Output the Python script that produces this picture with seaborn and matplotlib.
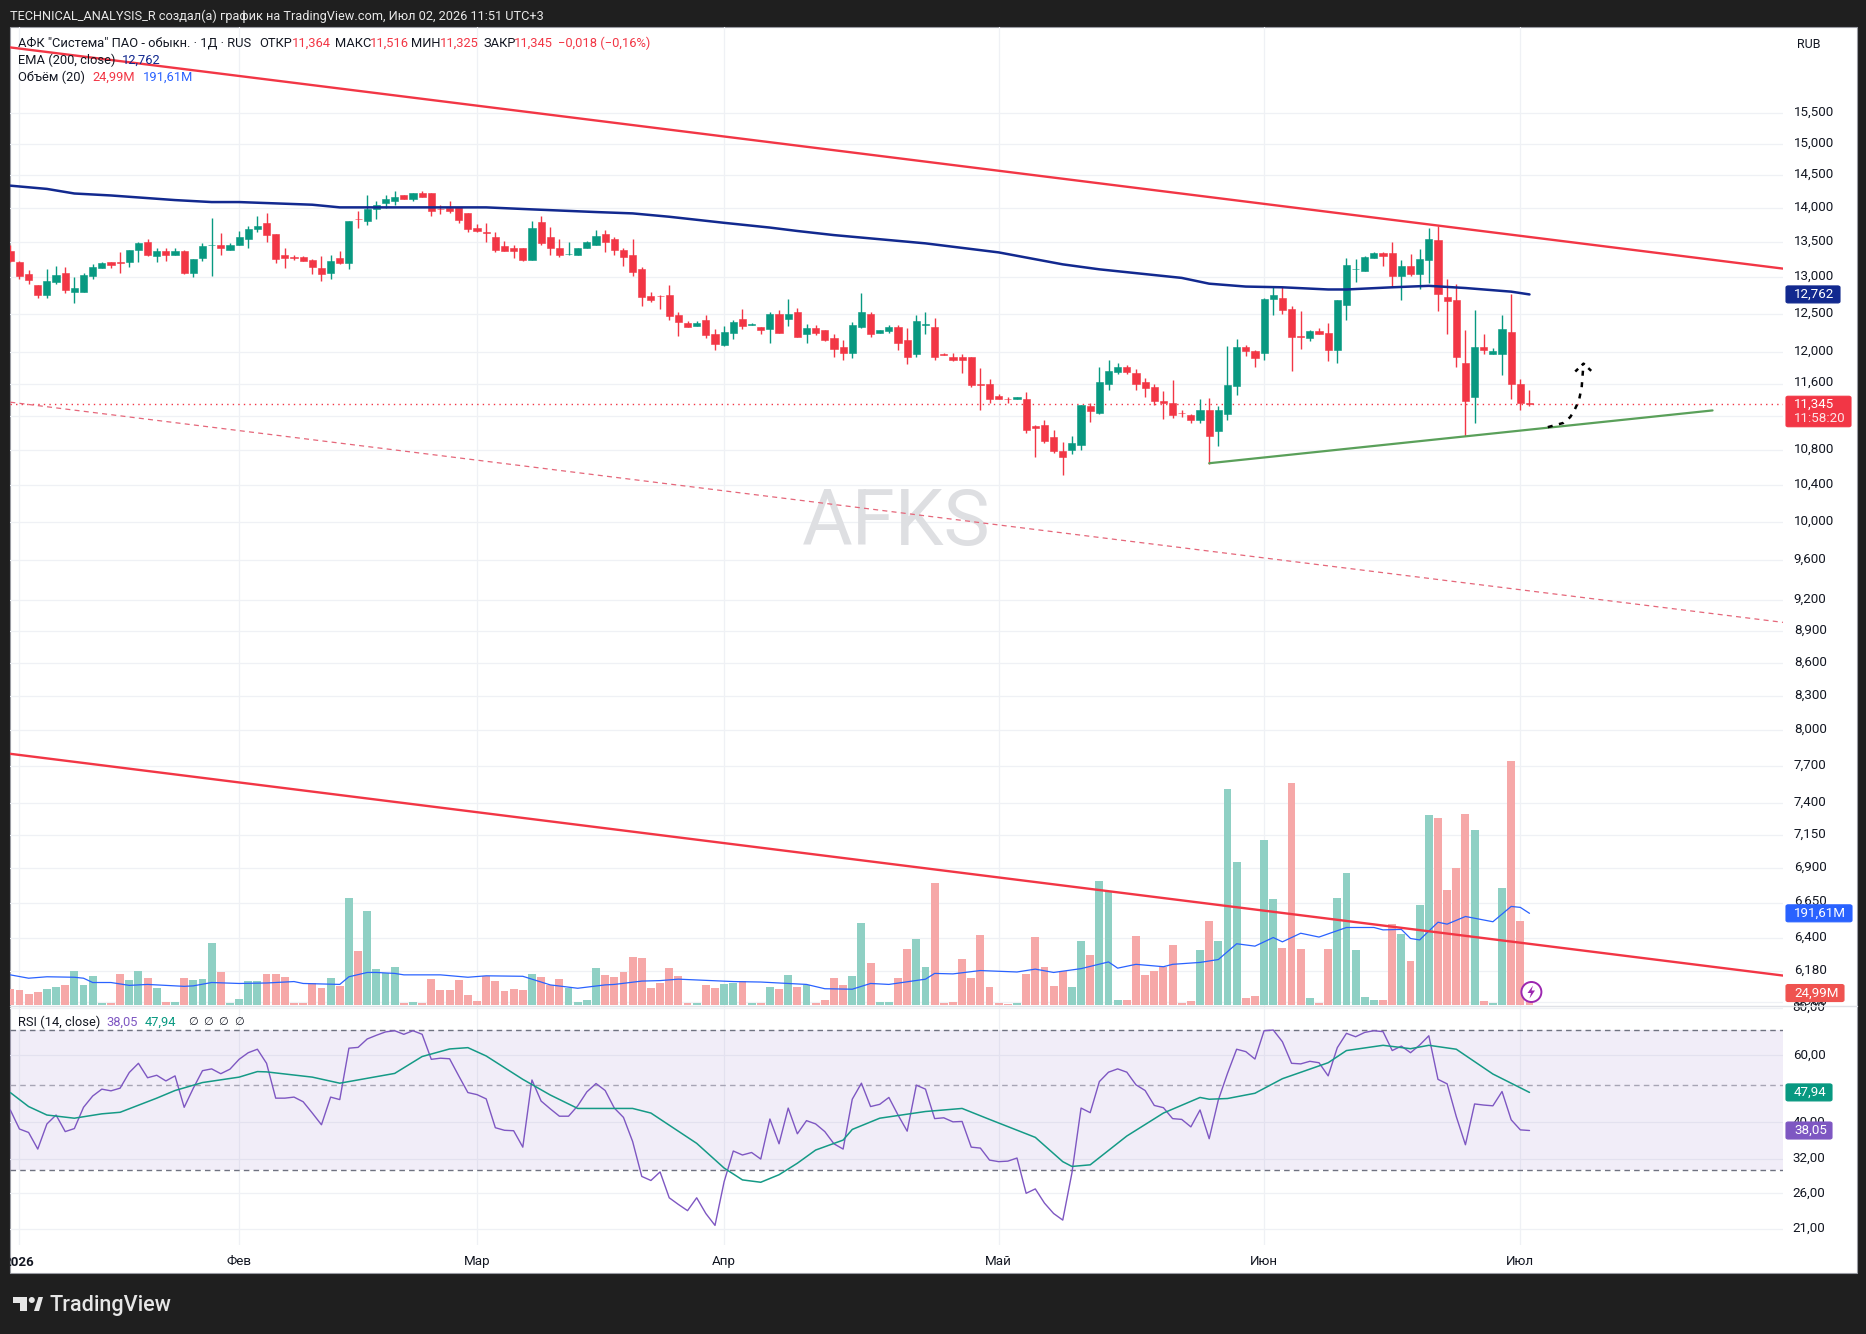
import numpy as np
import pandas as pd
import matplotlib
matplotlib.use("Agg")
import matplotlib.pyplot as plt
from matplotlib.lines import Line2D
from matplotlib.patches import Rectangle, Ellipse, Polygon, FancyBboxPatch
from matplotlib.transforms import ScaledTranslation
import seaborn as sns

# Daily OHLC of AFKS, one entry per session
opens = [13.37,13.21,13.05,12.89,12.76,12.94,13.06,12.80,12.80,13.01,13.135,13.21,13.21,13.21,13.38,13.50,13.30,13.37,13.32,13.37,
         13.06,13.27,13.45,13.46,13.38,13.46,13.54,13.69,13.78,13.61,13.31,13.28,13.28,13.24,13.13,13.06,13.27,13.20,13.84,13.81,
         13.99,14.07,14.11,14.19,14.13,14.235,14.22,13.99,14.005,14.02,13.93,13.70,13.64,13.57,13.435,13.41,13.41,13.24,13.79,13.57,
         13.41,13.33,13.32,13.42,13.45,13.61,13.54,13.38,13.32,13.115,12.74,12.74,12.76,12.48,12.375,12.34,12.415,12.23,12.085,12.245,
         12.43,12.35,12.32,12.30,12.50,12.43,12.52,12.23,12.31,12.29,12.175,12.06,11.99,12.33,12.50,12.24,12.27,12.32,12.15,11.97,
         12.35,12.33,11.97,11.94,11.94,11.93,11.595,11.60,11.44,11.415,11.415,11.415,11.085,11.10,10.955,10.79,10.80,10.86,11.32,11.24,
         11.60,11.74,11.805,11.73,11.615,11.555,11.39,11.365,11.245,11.21,11.16,11.27,11.02,11.23,11.57,12.06,12.01,11.98,12.70,12.72,
         12.565,12.20,12.18,12.27,12.245,12.02,12.62,13.11,13.09,13.27,13.34,13.34,13.02,13.15,13.04,13.245,13.525,12.73,12.69,11.855,
         11.43,12.06,11.97,11.97,12.26,11.60,11.364]
highs = [13.45,13.23,13.10,12.89,13.115,13.16,13.145,13.005,13.06,13.185,13.21,13.21,13.35,13.39,13.50,13.55,13.41,13.41,13.41,13.39,
         13.255,13.49,13.85,13.63,13.49,13.66,13.73,13.88,13.93,13.61,13.42,13.31,13.30,13.255,13.30,13.32,13.37,13.81,13.96,14.19,
         14.10,14.19,14.265,14.19,14.235,14.265,14.22,14.04,14.10,14.02,13.93,13.76,13.78,13.64,13.52,13.46,13.41,13.81,13.88,13.72,
         13.54,13.50,13.41,13.52,13.67,13.67,13.57,13.41,13.54,13.145,12.80,12.76,12.89,12.52,12.40,12.40,12.48,12.30,12.34,12.415,
         12.565,12.375,12.32,12.52,12.55,12.70,12.575,12.36,12.35,12.29,12.23,12.15,12.39,12.78,12.53,12.29,12.35,12.35,12.31,12.48,
         12.52,12.44,11.99,11.98,11.97,11.93,11.79,11.655,11.465,11.43,11.43,11.49,11.10,11.157,11.04,10.90,10.97,11.34,11.355,11.805,
         11.90,11.855,11.83,11.78,11.665,11.60,11.505,11.64,11.28,11.23,11.405,11.42,11.32,12.07,12.17,12.09,12.02,12.715,12.87,12.87,
         12.605,12.54,12.285,12.31,12.375,12.69,13.27,13.26,13.30,13.355,13.355,13.495,13.245,13.33,13.40,13.71,13.74,12.98,12.90,12.285,
         12.55,12.23,12.05,12.48,12.77,11.655,11.516]
lows = [13.21,12.975,12.91,12.71,12.72,12.91,12.785,12.65,12.795,12.97,13.13,13.135,13.065,13.145,13.21,13.30,13.21,13.23,13.31,13.05,
        13.005,13.23,13.02,13.31,13.38,13.45,13.41,13.64,13.50,13.20,13.13,13.24,13.225,13.05,12.95,12.98,13.185,13.115,13.70,13.75,
        13.84,14.005,14.04,14.13,14.11,14.17,13.88,13.915,13.93,13.78,13.64,13.64,13.50,13.35,13.37,13.27,13.23,13.24,13.45,13.32,
        13.28,13.32,13.32,13.41,13.45,13.35,13.31,13.16,13.02,12.61,12.66,12.565,12.415,12.21,12.32,12.34,12.18,12.03,12.07,12.165,
        12.30,12.345,12.23,12.115,12.245,12.34,12.19,12.11,12.215,12.135,11.93,11.90,11.92,12.31,12.19,12.24,12.25,12.03,11.85,11.93,
        12.23,11.89,11.955,11.88,11.73,11.555,11.28,11.365,11.405,11.365,11.405,11.005,10.725,10.885,10.77,10.515,10.76,10.80,11.135,11.23,
        11.515,11.72,11.72,11.515,11.43,11.34,11.17,11.18,11.195,11.125,11.125,10.64,10.85,11.16,11.455,11.945,11.81,11.895,12.48,12.495,
        11.755,12.035,12.14,12.23,11.88,11.855,12.415,12.94,13.08,13.27,13.16,12.87,12.69,13.02,12.83,12.925,12.535,12.23,11.81,10.96,
        11.125,11.97,11.97,11.705,11.41,11.28,11.325]
closes = [13.23,13.01,12.96,12.76,12.95,13.03,12.82,12.85,13.03,13.145,13.20,13.17,13.20,13.38,13.49,13.32,13.37,13.31,13.37,13.06,
          13.255,13.435,13.46,13.41,13.46,13.57,13.69,13.73,13.60,13.255,13.27,13.27,13.23,13.145,13.05,13.23,13.20,13.81,13.83,13.99,
          14.05,14.14,14.17,14.13,14.235,14.17,13.96,13.98,13.96,13.82,13.69,13.66,13.63,13.39,13.37,13.37,13.24,13.70,13.48,13.41,
          13.32,13.33,13.41,13.50,13.58,13.50,13.38,13.28,13.075,12.73,12.69,12.735,12.47,12.39,12.32,12.375,12.22,12.10,12.26,12.39,
          12.34,12.36,12.285,12.50,12.245,12.50,12.19,12.31,12.24,12.16,12.04,11.99,12.35,12.53,12.23,12.28,12.33,12.12,11.94,12.41,
          12.36,11.93,11.955,11.89,11.89,11.58,11.585,11.415,11.405,11.41,11.43,11.04,11.065,10.91,10.79,10.725,10.885,11.33,11.265,11.615,
          11.755,11.805,11.74,11.60,11.54,11.38,11.355,11.215,11.235,11.15,11.28,10.97,11.27,11.58,12.06,12.01,11.92,12.70,12.76,12.55,
          12.19,12.19,12.27,12.23,12.02,12.68,13.175,13.12,13.29,13.34,13.30,13.02,13.16,13.04,13.26,13.54,12.77,12.675,11.93,11.38,
          12.06,12.02,12.01,12.30,11.59,11.355,11.345]

# Traded volume per session, millions of shares
volumes = [33,31,23,27,33,38,42,71,42,61,4,4,65,52,71,56,36,6,6,56,
           52,54,130,69,4,13,50,50,65,65,59,4,4,46,36,56,40,224,113,197,
           75,67,79,4,6,4,54,31,31,52,21,8,61,50,29,33,31,65,59,42,
           54,36,6,10,77,63,59,69,100,98,36,46,77,61,4,4,42,36,44,46,
           50,4,4,38,33,63,38,42,4,10,56,42,61,171,88,6,6,56,117,138,
           79,255,4,6,96,56,146,38,4,2,4,65,142,79,40,71,38,134,105,259,
           238,10,10,144,63,71,79,125,4,8,115,176,134,452,299,15,19,345,222,119,
           463,117,15,4,117,224,276,115,17,10,10,169,148,92,209,397,391,240,286,399,
           366,8,4,245,510,176,24.99]

# 20-period volume average, read at selected sessions
vol_ma_idx = [0,2,4,7,8,9,11,13,15,19,20,22,25,28,31,32,36,37,39,40,42,43,47,50,52,56,59,62,65,66,69,71,73,79,82,87,89,92,94,96,
              100,101,103,106,110,112,114,117,120,121,123,126,127,130,132,134,136,138,139,141,143,146,149,150,152,153,154,156,157,159,162,164,165,166]
vol_ma_val = [63,56,59,58,56,47,47,41,43,39,40,47,45,46,49,45,43,59,68,68,66,63,63,58,61,60,42,35,42,43,50,51,54,49,48,43,34,33,45,43,
              54,66,65,72,69,75,68,76,90,77,85,80,85,89,95,128,123,141,132,150,142,162,162,157,158,139,136,173,169,185,174,206,204,191.61]

# EMA(200) of the close, read at selected sessions
ema_idx = [0,4,7,11,15,18,22,25,29,33,36,40,44,52,57,64,68,72,78,83,86,90,100,108,115,119,128,131,135,139,144,146,151,155,159,164,166]
ema_val = [14.34,14.29,14.22,14.19,14.15,14.12,14.09,14.09,14.07,14.05,14.01,14.01,14.01,14.01,13.98,13.94,13.92,13.87,13.78,13.71,
           13.66,13.60,13.48,13.35,13.18,13.11,12.99,12.91,12.87,12.86,12.83,12.83,12.86,12.88,12.85,12.80,12.762]

# RSI(14), one value per session
rsi = [43.1,38.4,37.6,34.0,39.6,41.8,37.8,38.5,43.8,46.9,48.9,48.4,49.2,54.1,57.2,52.4,53.2,51.4,53.0,43.8,
       49.2,54.7,55.3,53.7,55.2,58.6,61.0,62.3,57.2,46.3,46.3,46.6,45.3,42.3,39.4,46.6,45.9,62.7,63.0,66.3,
       67.8,69.2,69.7,68.2,69.7,68.2,58.6,59.0,58.8,53.0,47.9,47.3,46.1,38.7,38.1,38.0,34.4,51.7,45.5,43.4,
       41.5,41.5,44.2,48.1,50.6,48.5,43.6,41.2,35.6,28.8,28.1,29.6,25.3,24.3,23.4,25.3,23.0,21.4,27.9,33.6,
       32.8,33.3,32.0,40.8,35.1,43.6,37.3,40.4,39.6,37.8,35.1,34.0,46.0,50.7,44.0,44.6,46.5,41.8,37.9,50.1,
       48.9,40.9,41.1,40.1,40.2,34.4,34.2,31.8,31.5,31.6,32.2,26.0,26.7,24.5,23.0,22.1,29.4,43.6,42.4,51.2,
       54.2,55.3,54.2,50.2,48.5,44.3,43.7,40.9,40.7,38.9,43.1,36.2,45.8,53.8,62.3,61.4,58.7,69.7,70.0,65.2,
       57.2,57.0,57.9,57.4,53.0,62.9,68.6,67.2,69.0,69.7,69.3,61.8,63.5,61.0,63.9,67.6,51.9,50.5,41.4,34.9,
       44.7,44.4,44.2,48.2,40.6,38.2,38.05]

# RSI smoothing average, read at selected sessions
rsi_ma_idx = [0,2,4,7,10,12,16,18,21,25,27,28,33,36,42,45,48,50,52,56,59,62,68,70,75,78,80,82,84,86,88,91,92,95,100,104,107,112,115,116,
              118,122,126,130,131,133,136,139,144,146,150,153,155,158,162,166]
rsi_ma_val = [47.9,44.0,41.8,41.0,42.1,42.5,46.3,48.5,50.9,52.6,54.4,54.3,52.6,50.7,53.8,59.6,62.4,62.9,59.8,51.9,47.2,43.5,43.5,42.3,35.2,30.3,28.2,27.8,29.1,31.2,33.8,35.9,38.3,41.0,42.7,43.5,40.7,36.5,31.5,30.6,
              30.9,36.8,42.3,46.5,46.0,46.2,47.7,52.1,57.4,61.8,63.8,62.5,63.8,62.3,53.6,47.94]

# Hand-drawn trend lines (session index, price)
upper_line_x, upper_line_y = [0, 193.7], [16.63, 13.12]
dashed_line_x, dashed_line_y = [0, 193.7], [11.37, 8.98]
lower_line_x, lower_line_y = [0, 193.7], [7.80, 6.15]
support_line_x, support_line_y = [131, 186], [10.65, 11.27]
path_x = [168, 169.7, 170.45, 170.9, 171.4, 171.7, 171.9]
path_y = [11.07, 11.12, 11.19, 11.27, 11.39, 11.55, 11.85]
path_head_x, path_head_y = [171.0, 171.9, 173.1], [11.75, 11.85, 11.72]

# Axis ticks
price_ticks = [15.5,15,14.5,14,13.5,13,12.5,12,11.6,11.2,10.8,10.4,10,9.6,9.2,8.9,8.6,8.3,8.0,7.7,7.4,7.15,6.9,6.65,6.4,6.18,5.98]
rsi_ticks = [80,60,40,32,26,21]
month_idx = [1,25,51,78,108,137,165]
month_labels = ["2026","Фев","Мар","Апр","Май","Июн","Июл"]

GREEN, RED = "#089981", "#f23645"
NAVY, BLUE, PURPLE = "#12298f", "#2962ff", "#7e57c2"
INK = "#131722"
GRID = "#eff1f5"
FRAME = "#1f1f1f"
W, H = 1866, 1334

sns.set_theme(style="white")
plt.rcParams["font.family"] = ["Roboto", "DejaVu Sans"]
plt.rcParams["font.size"] = 9.6
plt.rcParams["path.simplify"] = False


def fx(x):
    return x / W


def fy(y):
    return 1 - y / H


def axes_box(left, top, right, bottom):
    return [fx(left), fy(bottom), (right - left) / W, (bottom - top) / H]


def label(x, y, s, color=INK, size=9.25, **kw):
    kw.setdefault("va", "center")
    kw.setdefault("ha", "left")
    return fig.text(fx(x), fy(y), s, color=color, fontsize=size, **kw)


def value_tag(ax, value, s, color, right, top_pad=8.5, bottom_pad=8.5):
    # Coloured price tag on the right scale, placed from the value it states
    disp = ax.transData.transform((0, value))[1]
    y = H - disp
    fig.add_artist(FancyBboxPatch((fx(1786), fy(y + bottom_pad)), (right - 1786) / W, (top_pad + bottom_pad) / H,
                                  boxstyle="round,pad=0,rounding_size=0.0012", transform=fig.transFigure,
                                  fc=color, ec=color, lw=0.8, zorder=2))
    label(1794, y, s, color="white", size=9.6, zorder=3)


def lift_labels(ax, pixels):
    # Value labels sit slightly above their grid lines
    offset = ScaledTranslation(0, pixels / 100, fig.dpi_scale_trans)
    for t in ax.get_yticklabels():
        t.set_transform(t.get_transform() + offset)


fig = plt.figure(figsize=(W / 100, H / 100), dpi=100, facecolor=FRAME)
panel = Rectangle((fx(10), fy(1273)), (1857 - 10) / W, (1273 - 27) / H, transform=fig.transFigure,
                  fc="white", ec="#9a9ca3", lw=0.8, zorder=-1)
fig.add_artist(panel)

idx = np.arange(len(closes))
xlim = (-0.033, 193.7)
price_lim = (5.959, 16.998)
price_box = axes_box(10, 27, 1783, 1005)

# Back layer: log price scale and grid
ax_back = fig.add_axes(price_box, facecolor="none")
ax_back.set_yscale("log")
ax_back.set_xlim(xlim)
ax_back.set_ylim(price_lim)
ax_back.yaxis.tick_right()
ax_back.set_yticks(price_ticks)
ax_back.set_yticklabels([f"{t:.3f}".replace(".", ",") for t in price_ticks], color=INK, fontsize=9.6)
ax_back.minorticks_off()
ax_back.set_xticks(month_idx)
ax_back.set_xticklabels([])
ax_back.tick_params(axis="both", length=0, pad=7.8)
ax_back.grid(True, color=GRID, lw=0.9)
for s in ax_back.spines.values():
    s.set_visible(False)
lift_labels(ax_back, 2.4)
ax_back.text(fx(896), fy(523), "AFKS", transform=fig.transFigure, color="#dedfe2", fontsize=56,
             ha="center", va="center", fontweight="normal")

# Volume overlay
ax_vol = fig.add_axes(price_box, facecolor="none")
vol_frame = pd.DataFrame({"session": idx, "volume": volumes,
                          "side": np.where(np.array(closes) >= np.array(opens), "up", "down")})
sns.barplot(data=vol_frame, x="session", y="volume", hue="side", native_scale=True, dodge=False,
            palette={"up": "#8fd0c4", "down": "#f6a8a8"}, width=0.86, saturation=1, linewidth=0,
            legend=False, ax=ax_vol)
sns.lineplot(x=vol_ma_idx, y=vol_ma_val, color=BLUE, lw=0.9, estimator=None, ax=ax_vol, zorder=4)
ax_vol.set_xlim(xlim)
ax_vol.set_ylim(0, 2044)
ax_vol.axis("off")

# Candles, moving average and drawings
ax = fig.add_axes(price_box, facecolor="none")
ax.set_yscale("log")
ax.set_xlim(xlim)
ax.set_ylim(price_lim)
o, hi, lo, cl = map(np.array, (opens, highs, lows, closes))
colors = np.where(cl >= o, GREEN, RED)
ax.vlines(idx, lo, hi, colors=colors, lw=1.0, zorder=3)
body_low = np.minimum(o, cl)
body_h = np.abs(cl - o)
ax.bar(idx, body_h, bottom=body_low, width=0.78, color=colors, edgecolor=colors, linewidth=0.4, zorder=4)
ax.axhline(closes[-1], color=RED, lw=1, ls=(0, (1, 3)), zorder=2)
sns.lineplot(x=ema_idx, y=ema_val, color=NAVY, lw=1.8, estimator=None, ax=ax, zorder=5)
ax.plot(upper_line_x, upper_line_y, color=RED, lw=1.7, zorder=6)
ax.plot(lower_line_x, lower_line_y, color=RED, lw=1.7, zorder=6)
ax.plot(dashed_line_x, dashed_line_y, color="#e5677a", lw=0.9, ls=(0, (4, 3.4)), zorder=6)
ax.plot(support_line_x, support_line_y, color="#5aa05a", lw=1.6, zorder=6)
ax.plot(path_x, path_y, color="black", lw=1.8, ls=(0, (2, 2.6)), zorder=7)
ax.plot(path_head_x, path_head_y, color="black", lw=1.8, ls=(0, (1.6, 2.0)), zorder=7)
ax.axis("off")

# RSI pane
ax_rsi = fig.add_axes(axes_box(10, 1005, 1783, 1245), facecolor="none")
ax_rsi.set_yscale("log")
ax_rsi.set_xlim(xlim)
ax_rsi.set_ylim(19.0, 81.47)
ax_rsi.axhspan(30, 70, color=PURPLE, alpha=0.1, lw=0, zorder=1)
for level, col in ((70, "#6f7280"), (50, "#a7a5b5"), (30, "#6f7280")):
    ax_rsi.axhline(level, color=col, lw=1, ls=(0, (4, 3)), zorder=2)
sns.lineplot(x=idx, y=rsi, color=PURPLE, lw=1.0, estimator=None, ax=ax_rsi, zorder=4)
sns.lineplot(x=rsi_ma_idx, y=rsi_ma_val, color="#159a86", lw=1.1, estimator=None, ax=ax_rsi, zorder=5)
ax_rsi.yaxis.tick_right()
ax_rsi.set_yticks(rsi_ticks)
ax_rsi.set_yticklabels([f"{t},00" for t in rsi_ticks], color=INK, fontsize=9.6)
ax_rsi.minorticks_off()
ax_rsi.set_xticks(month_idx)
ax_rsi.set_xticklabels([""] + month_labels[1:], color=INK, fontsize=9.6)
ax_rsi.tick_params(axis="both", length=0, pad=7.0)
ax_rsi.tick_params(axis="x", pad=7.2)
ax_rsi.grid(True, color=GRID, lw=0.9)
ax_rsi.set_axisbelow(True)
for s in ax_rsi.spines.values():
    s.set_visible(False)
lift_labels(ax_rsi, 1.8)

# Year label sits on the first month tick and is cut by the panel edge
year = label(19, 1262, month_labels[0], size=9.6, ha="center", fontweight="bold")
year.set_clip_path(panel)

# Pane separators
fig.add_artist(Line2D([fx(10), fx(1857)], [fy(1005.5), fy(1005.5)], color="#dfe1e6", lw=1, zorder=0.5))

# Header and footer
label(10, 16, "TECHNICAL_ANALYSIS_R создал(а) график на TradingView.com, Июл 02, 2026 11:51 UTC+3", color="#e8e8e8", size=9.15)
label(49.5, 1305, "TradingView", color="#e6e6e6", size=15.6, fontweight="medium")
LOGO = "#e6e6e6"
fig.add_artist(Polygon([(fx(x), fy(y)) for x, y in [(12.5, 1297), (27, 1297), (27, 1311), (20, 1311), (20, 1303), (12.5, 1303)]],
                       closed=True, transform=fig.transFigure, fc=LOGO, ec="none"))
fig.add_artist(Polygon([(fx(x), fy(y)) for x, y in [(34, 1311), (38.5, 1297), (43, 1297), (39, 1311)]],
                       closed=True, transform=fig.transFigure, fc=LOGO, ec="none"))
fig.add_artist(Ellipse((fx(31.8), fy(1300)), 6 / W, 6 / H, transform=fig.transFigure, fc=LOGO, ec="none"))

# Indicator legends
label(18.3, 43.2, 'АФК "Система" ПАО - обыкн. · 1Д · RUS')
for x, s in ((259, "ОТКР"), (335, "МАКС"), (411, "МИН"), (483, "ЗАКР")):
    label(x, 43.2, s)
for x, s in ((291.5, "11,364"), (369.6, "11,516"), (439.7, "11,325"), (513.4, "11,345"), (558, "−0,018 (−0,16%)")):
    label(x, 43.2, s, color=RED)
label(18.3, 60, "EMA (200, close)")
label(122, 60, "12,762", color=NAVY)
label(18.3, 77, "Объём (20)")
label(92, 77, "24,99M", color=RED)
label(143, 77, "191,61M", color=BLUE)
label(18, 1022, "RSI (14, close)")
label(106, 1022, "38,05", color=PURPLE)
label(145, 1022, "47,94", color=GREEN)
for x in (188, 203, 218, 234):
    label(x, 1022, "∅", size=8, family="DejaVu Sans")
label(1809, 44, "RUB", ha="center", size=9)

# Value tags on the right scale
value_tag(ax, ema_val[-1], "12,762", "#12298f", 1840)
value_tag(ax, closes[-1], "11,345", RED, 1851, top_pad=8, bottom_pad=22.5)
label(1794, 418.5, "11:58:20", color="#fde4e7", size=9.6, zorder=3)
value_tag(ax_vol, vol_ma_val[-1], "191,61M", BLUE, 1852)
value_tag(ax_vol, volumes[-1], "24,99M", "#ef5350", 1844)
value_tag(ax_rsi, rsi_ma_val[-1], "47,94", GREEN, 1832)
value_tag(ax_rsi, rsi[-1], "38,05", PURPLE, 1832)

# Dividend marker at the last session
fig.add_artist(Ellipse((fx(1531.4), fy(992)), 20 / W, 20 / H, transform=fig.transFigure, fc="white", ec="#9c27b0", lw=1.4, zorder=2))
bolt = [(1533, 985.5), (1527.5, 993), (1531, 993), (1529.5, 998.5), (1535, 990.5), (1531.5, 990.5)]
fig.add_artist(Polygon([(fx(x), fy(y)) for x, y in bolt], closed=True, transform=fig.transFigure, fc="#9c27b0", ec="none", zorder=3))

fig.savefig("out.png", dpi=100, facecolor=FRAME)
